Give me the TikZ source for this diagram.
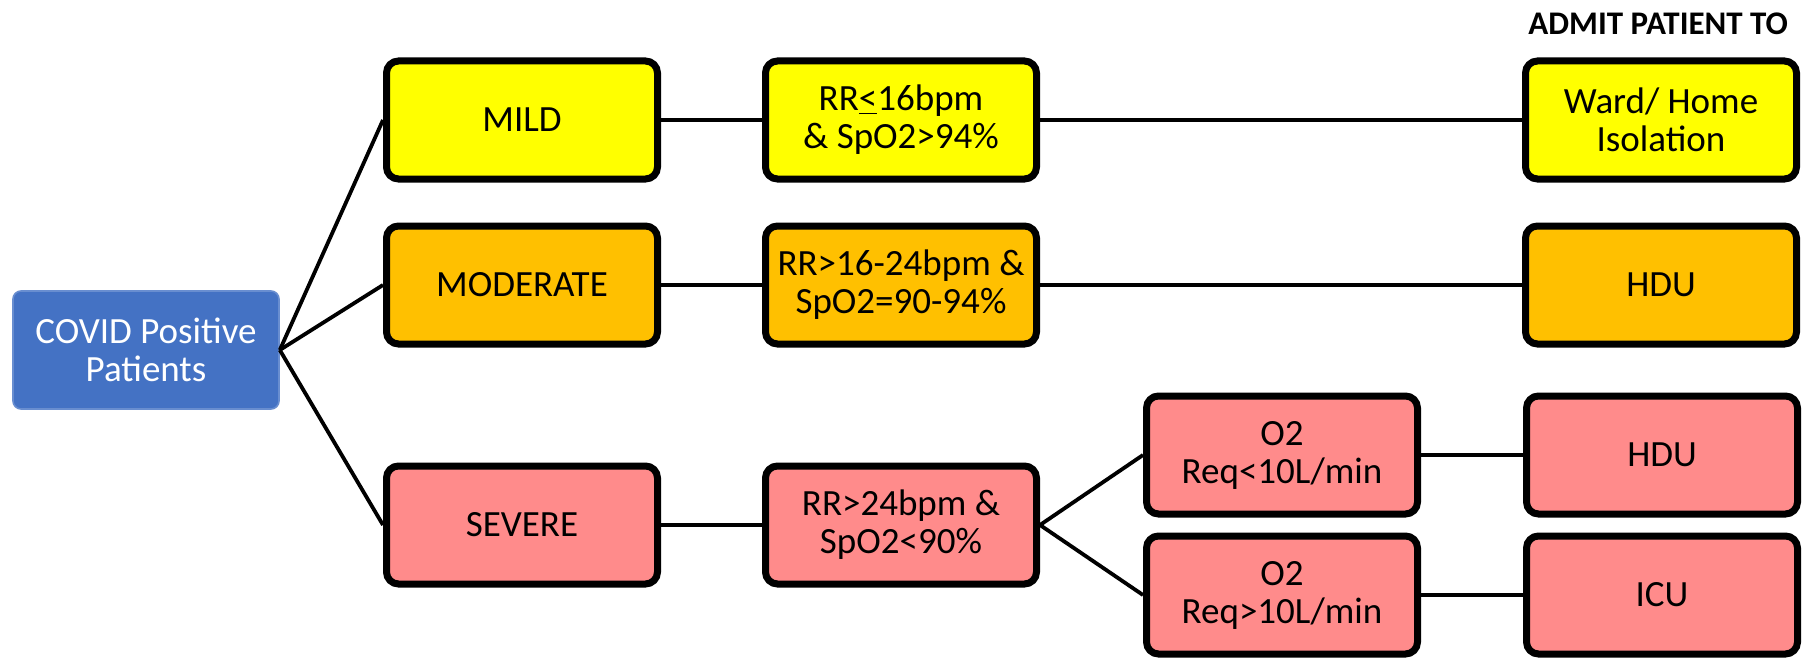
\documentclass[tikz,border=0pt]{standalone}
\usepackage{fontspec}
\setmainfont{Carlito}
\usetikzlibrary{positioning}
\definecolor{covidblue}{HTML}{4472C4}
\definecolor{mildyellow}{HTML}{FFFF00}
\definecolor{modorange}{HTML}{FFC000}
\definecolor{severepink}{HTML}{FF8B8B}

\begin{document}
\begin{tikzpicture}[
    x=0.5pt, y=-0.5pt,
    every node/.style={font=\fontsize{18.5}{19}\selectfont},
    rootblock/.style={rectangle, fill=covidblue, draw=covidblue!80!white, line width=0.8pt, rounded corners=4pt, minimum width=133pt, minimum height=59pt, align=center, text=white},
    flowblock/.style={rectangle, draw=black, line width=3.5pt, rounded corners=6pt, minimum width=135.5pt, minimum height=59pt, inner sep=1pt, align=center},
    link/.style={line width=1.9pt},
    header/.style={font=\fontsize{16.5}{18}\selectfont\bfseries, anchor=east}
]
\useasboundingbox (0,0) rectangle (1802,658);

% Start node
\node[rootblock] (covid) at (146,350) {COVID Positive\\Patients};

% Severity levels
\node[flowblock, fill=mildyellow] (mild) at (522,120) {MILD};
\node[flowblock, fill=modorange] (moderate) at (522,285) {MODERATE};
\node[flowblock, fill=severepink] (severe) at (522,525) {SEVERE};

% Clinical criteria
\node[flowblock, fill=mildyellow, right=50.5pt of mild] (critmild) {RR\underline{<}16bpm\\\& SpO2>94\%};
\node[flowblock, fill=modorange, right=50.5pt of moderate] (critmod) {RR>16-24bpm \&\\SpO2=90-94\%};
\node[flowblock, fill=severepink, right=50.5pt of severe] (critsev) {RR>24bpm \&\\SpO2<90\%};

% Oxygen requirement
\node[flowblock, fill=severepink] (oxlow) at (1282,455) {O2\\Req<10L/min};
\node[flowblock, fill=severepink] (oxhigh) at (1282,595) {O2\\Req>10L/min};

% Admission
\node[header] (admit) at (1795,24) {ADMIT PATIENT TO};
\node[flowblock, fill=mildyellow, right=241pt of critmild] (ward) {Ward/ Home\\Isolation};
\node[flowblock, fill=modorange, right=241pt of critmod] (hdumod) {HDU};
\node[flowblock, fill=severepink, right=51pt of oxlow] (hdusev) {HDU};
\node[flowblock, fill=severepink, right=51pt of oxhigh] (icu) {ICU};

\draw[link] (covid.east) -- (mild.west);
\draw[link] (covid.east) -- (moderate.west);
\draw[link] (covid.east) -- (severe.west);
\draw[link] (mild.east) -- (critmild.west);
\draw[link] (moderate.east) -- (critmod.west);
\draw[link] (severe.east) -- (critsev.west);
\draw[link] (critmild.east) -- (ward.west);
\draw[link] (critmod.east) -- (hdumod.west);
\draw[link] (critsev.east) -- (oxlow.west);
\draw[link] (critsev.east) -- (oxhigh.west);
\draw[link] (oxlow.east) -- (hdusev.west);
\draw[link] (oxhigh.east) -- (icu.west);

\end{tikzpicture}
\end{document}
